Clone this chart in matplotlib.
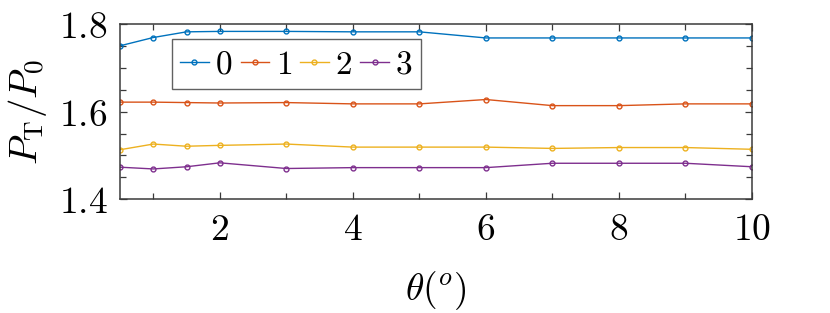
import matplotlib
matplotlib.use('Agg')
import matplotlib.pyplot as plt
from matplotlib.ticker import MultipleLocator

plt.rcParams['mathtext.fontset'] = 'cm'

# angle values (degrees)
theta = [0.5, 1, 1.5, 2, 3, 4, 5, 6, 7, 8, 9, 10]

# P_T / P_0 for each case
ratio_0 = [1.751, 1.770, 1.783, 1.784, 1.784, 1.783, 1.783, 1.769, 1.769, 1.769, 1.769, 1.769]
ratio_1 = [1.622, 1.622, 1.621, 1.620, 1.621, 1.618, 1.618, 1.628, 1.614, 1.614, 1.618, 1.618]
ratio_2 = [1.513, 1.526, 1.521, 1.523, 1.526, 1.519, 1.519, 1.519, 1.516, 1.518, 1.518, 1.514]
ratio_3 = [1.473, 1.469, 1.474, 1.483, 1.470, 1.472, 1.472, 1.472, 1.482, 1.482, 1.482, 1.474]

series = [ratio_0, ratio_1, ratio_2, ratio_3]
names = ['0', '1', '2', '3']
colors = ['#0072BD', '#D95319', '#EDB120', '#7E2F8E']

xticks = [2, 4, 6, 8, 10]
yticks = [1.4, 1.6, 1.8]

fig = plt.figure(figsize=(8.3, 3.13), dpi=100)
ax = fig.add_axes([0.1446, 0.364, 0.7614, 0.558])

for y, name, c in zip(series, names, colors):
    ax.plot(theta, y, '-o', color=c, lw=1.0, ms=3.5, mfc='none', mew=1.0,
            label=f'${name}$')

ax.set_xlim(0.5, 10)
ax.set_ylim(1.4, 1.8)
ax.set_xticks(xticks)
ax.set_xticklabels([f'${v}$' for v in xticks])
ax.set_yticks(yticks)
ax.set_yticklabels([f'${v:.1f}$' for v in yticks])
ax.xaxis.set_minor_locator(MultipleLocator(1))
ax.yaxis.set_minor_locator(MultipleLocator(0.05))

ax.tick_params(which='both', direction='in', top=True, right=True,
               color='#3a3a3a', width=0.9)
ax.tick_params(which='major', length=5, labelsize=27, pad=9)
ax.tick_params(which='minor', length=4)
for s in ax.spines.values():
    s.set_color('#3a3a3a')
    s.set_linewidth(1.1)

ax.set_xlabel(r'$\theta(^o)$', fontsize=27)
ax.set_ylabel(r'$P_{\mathrm{T}}/P_0$', fontsize=28)
ax.xaxis.set_label_coords(0.5, -0.40)
ax.yaxis.set_label_coords(-0.113, 0.5)

leg = ax.legend(loc='upper left', bbox_to_anchor=(0.082, 0.915), ncol=4,
                fontsize=24, frameon=True, fancybox=False, handlelength=0.85,
                handletextpad=0.2, columnspacing=0.25, borderpad=0.25,
                borderaxespad=0)
leg.get_frame().set_edgecolor('#3a3a3a')
leg.get_frame().set_linewidth(1.0)

fig.savefig('out.png', dpi=100)
